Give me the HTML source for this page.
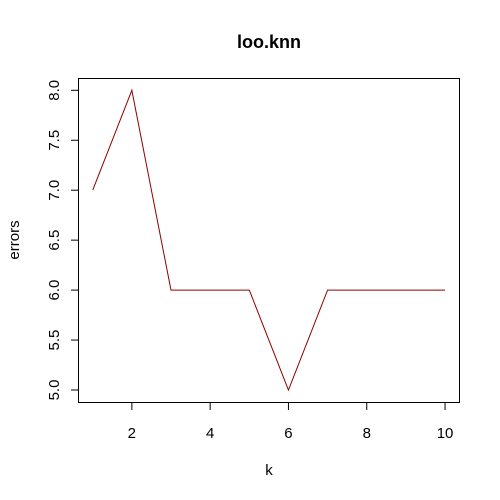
<!DOCTYPE html>
<html><head><meta charset="utf-8"><style>body{margin:0;background:#fff}svg{display:block}text{font-family:"Liberation Sans",Arial,sans-serif;fill:#000}</style></head>
<body>
<svg width="500" height="500">
<text x="269" y="48" font-size="18" font-weight="bold" text-anchor="middle">loo.knn</text>
<rect x="78.5" y="78.5" width="381" height="324" fill="none" stroke="#000"/>
<g id="xt"></g>
<g id="yt"></g>
<text x="269" y="475" font-size="15" text-anchor="middle">k</text>
<text transform="translate(19,240) rotate(-90)" font-size="15" text-anchor="middle">errors</text>
<polyline id="ln" fill="none" stroke="#8b0000" stroke-width="1"/>
</svg>
<script>
const ks=[1,2,3,4,5,6,7,8,9,10];
const errors=[7,8,6,6,6,5,6,6,6,6];
const xTicks=[2,4,6,8,10];
const yTicks=[5.0,5.5,6.0,6.5,7.0,7.5,8.0];
const X=v=>92.7+(v-1)*39.15;
const Y=v=>390-(v-5)*99.9;
const NS="http://www.w3.org/2000/svg";
const xt=document.getElementById('xt'),yt=document.getElementById('yt');
xt.innerHTML='<line x1="'+X(2)+'" x2="'+X(10)+'" y1="402.5" y2="402.5" stroke="#000"/>';
xTicks.forEach(t=>{
 const l=document.createElementNS(NS,'line');l.setAttribute('x1',X(t));l.setAttribute('x2',X(t));l.setAttribute('y1',402.5);l.setAttribute('y2',410);l.setAttribute('stroke','#000');
 
 
 xt.appendChild(l);
 const s=document.createElementNS(NS,'text');s.setAttribute('x',X(t));s.setAttribute('y',438);s.setAttribute('font-size','15');s.setAttribute('text-anchor','middle');s.textContent=t;
 
 
 xt.appendChild(s);
});
yt.innerHTML='<line x1="78.5" x2="78.5" y1="'+Y(5)+'" y2="'+Y(8)+'" stroke="#000"/>';
yTicks.forEach(t=>{
 const l=document.createElementNS(NS,'line');l.setAttribute('x1',71);l.setAttribute('x2',78.5);l.setAttribute('y1',Y(t));l.setAttribute('y2',Y(t));l.setAttribute('stroke','#000');
 
 
 yt.appendChild(l);
 const s=document.createElementNS(NS,'text');s.setAttribute('transform','translate(59,'+Y(t)+') rotate(-90)');s.setAttribute('font-size','15');s.setAttribute('text-anchor','middle');s.textContent=t.toFixed(1);
 
 
 yt.appendChild(s);
});
document.getElementById('ln').setAttribute('points',ks.map((k,i)=>X(k)+','+Y(errors[i])).join(' '));
</script>
</body></html>
